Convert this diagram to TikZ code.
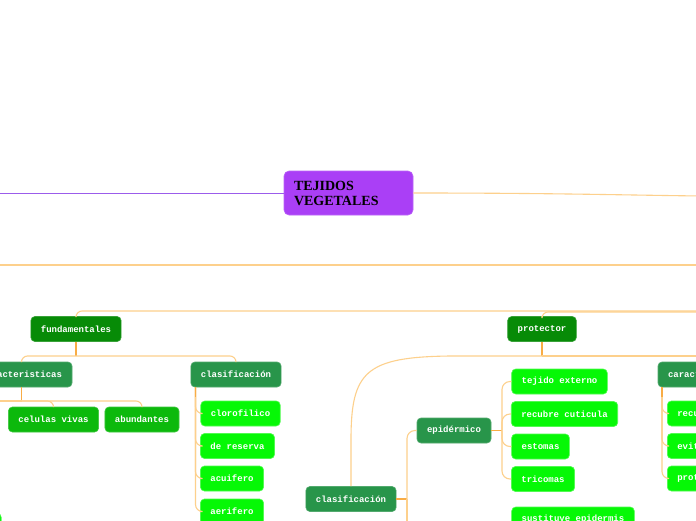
\documentclass[tikz,border=0pt]{standalone}
\usepackage{fontspec}
\setmainfont{Liberation Serif}
\newfontfamily\monof{Liberation Mono}
\definecolor{cpurple}{HTML}{AA3FF6}
\definecolor{cpline}{HTML}{9B5CEB}
\definecolor{cdark}{HTML}{078B07}
\definecolor{cmed}{HTML}{28954A}
\definecolor{clg}{HTML}{0CB90C}
\definecolor{cbr}{HTML}{06F806}
\definecolor{cln}{HTML}{FDD08C}
\definecolor{cstem}{HTML}{F8AC45}
\tikzset{
  box/.style={rounded corners=4pt, minimum height=25pt, inner xsep=10pt, inner ysep=0pt,
    text=white, font=\monof\bfseries\fontsize{9}{10}\selectfont, line width=0.6pt},
  dk/.style={box, fill=cdark, draw=cdark!80!white},
  md/.style={box, fill=cmed, draw=cmed!80!white},
  lg/.style={box, fill=clg, draw=clg!80!white},
  br/.style={box, fill=cbr, draw=cbr!70!white},
  ln/.style={draw=cln, line width=1.1pt},
  stem/.style={draw=cstem, line width=1.4pt},
}
\begin{document}
\begin{tikzpicture}[x=1pt,y=-1pt]
\useasboundingbox (0,0) rectangle (696,520);
\clip (0,0) rectangle (696,520);
\fill[white] (0,0) rectangle (696,520);

% root
\node[rounded corners=5pt, fill=cpurple, draw=cpurple!80!white, line width=0.6pt,
  minimum width=129pt, minimum height=44pt, text width=109pt, inner xsep=10pt, align=left,
  font=\bfseries\fontsize{14}{15}\selectfont] (root) at (348.5,193) {TEJIDOS\\VEGETALES};

% coordinates for free ends
\coordinate (lp) at (-5,193);
\coordinate (rp) at (701,196);
\coordinate (la) at (-5,265);
\coordinate (lb) at (701,265);
\coordinate (fr) at (701,311);
\coordinate (pr) at (701,312);

% nodes left
\node[dk, minimum width=90pt] (fund) at (76,329) {fundamentales};
\node[md, minimum width=101pt] (car1) at (21.5,374.5) {caracteristicas};
\node[md, minimum width=90pt] (clas1) at (236,374.5) {clasificación};
\node[lg, minimum width=89pt] (cel) at (53.5,419.5) {celulas vivas};
\node[lg, minimum width=74pt] (abu) at (142,419.5) {abundantes};
\node[br, minimum width=79pt] (cloro) at (240.5,413.5) {clorofilico};
\node[br, minimum width=73pt] (reser) at (237.5,446) {de reserva};
\node[br, minimum width=62pt] (acui) at (232,478.5) {acuifero};
\node[br, minimum width=62pt] (aeri) at (232,511.5) {aerifero};
\node[br, minimum width=60pt, anchor=north east] (hid) at (1.5,513) {};

% nodes right
\node[dk, minimum width=68pt] (prot) at (542,329) {protector};
\node[md, minimum width=101pt] (car2) at (708.5,374.5) {caracteristicas};
\node[br, text width=70pt, anchor=west, align=left] (recu) at (667,413.5) {recubre};
\node[br, text width=70pt, anchor=west, align=left] (evi) at (667,446) {evita};
\node[br, text width=70pt, anchor=west, align=left] (pro) at (667,478.5) {protege};
\node[md, minimum width=90pt] (clas2) at (351,499) {clasificación};
\node[md, minimum width=74pt] (epi) at (454,430.5) {epidérmico};
\node[br, minimum width=95pt] (tej) at (559.5,381.5) {tejido externo};
\node[br, minimum width=105pt] (recc) at (564.5,414) {recubre cuticula};
\node[br, minimum width=57pt] (est) at (540.5,446.5) {estomas};
\node[br, minimum width=62pt] (tri) at (543,479) {tricomas};
\node[br, minimum width=122pt] (sust) at (573,519.5) {sustituye epidermis};

% connectors
\draw[draw=cpline, line width=1pt] (root.west) -- (lp);
\draw[ln] (root.east) .. controls (550,193) and (620,195) .. (rp);
\draw[ln] (la) -- (lb);
\draw[ln, rounded corners=6pt] (fund.north) |- (fr);
\draw[ln, rounded corners=6pt] (prot.north) |- (pr);

\coordinate (fj) at (76,356);
\draw[stem] (fund.south) -- (fj);
\draw[ln, rounded corners=6pt] (fj) -| (car1.north);
\draw[ln, rounded corners=6pt] (fj) -| (clas1.north);

\coordinate (cj) at (21.5,401);
\coordinate (cl) at (-5,401);
\draw[stem] (car1.south) -- (cj);
\draw[ln] (cj) -- (cl);
\draw[ln, rounded corners=6pt] (cj) -| (cel.north);
\draw[ln, rounded corners=6pt] (cj) -| (abu.north);

\coordinate (c1t) at (195.5,387);
\draw[ln, rounded corners=7pt] (c1t) |- (cloro.west);
\draw[ln, rounded corners=7pt] (c1t) |- (reser.west);
\draw[ln, rounded corners=7pt] (c1t) |- (acui.west);
\draw[ln, rounded corners=7pt] (c1t) |- (aeri.west);
\draw[stem] (c1t) -- (195.5,397);

\coordinate (pj) at (542,356);
\coordinate (pr2) at (701,356);
\draw[stem] (prot.south) -- (pj);
\draw[ln] (pj) -- (pr2);
\draw[ln] (pj) -- (450,356) .. controls (365,357) and (351,372) .. (351,440) -- (clas2.north);

\coordinate (c2t) at (662,387);
\draw[ln, rounded corners=7pt] (c2t) |- (recu.west);
\draw[ln, rounded corners=7pt] (c2t) |- (evi.west);
\draw[ln, rounded corners=7pt] (c2t) |- (pro.west);
\draw[stem] (c2t) -- (662,397);

\coordinate (c2j) at (407,499);
\coordinate (c2b) at (407,525);
\draw[stem] (clas2.east) -- (c2j);
\draw[ln, rounded corners=8pt] (c2j) |- (epi.west);
\draw[ln] (c2j) -- (c2b);

\coordinate (ej) at (502,430.5);
\draw[stem] (epi.east) -- (ej);
\draw[ln, rounded corners=8pt] (ej) |- (tej.west);
\draw[ln, rounded corners=8pt] (ej) |- (recc.west);
\draw[ln, rounded corners=8pt] (ej) |- (est.west);
\draw[ln, rounded corners=8pt] (ej) |- (tri.west);
\end{tikzpicture}
\end{document}
